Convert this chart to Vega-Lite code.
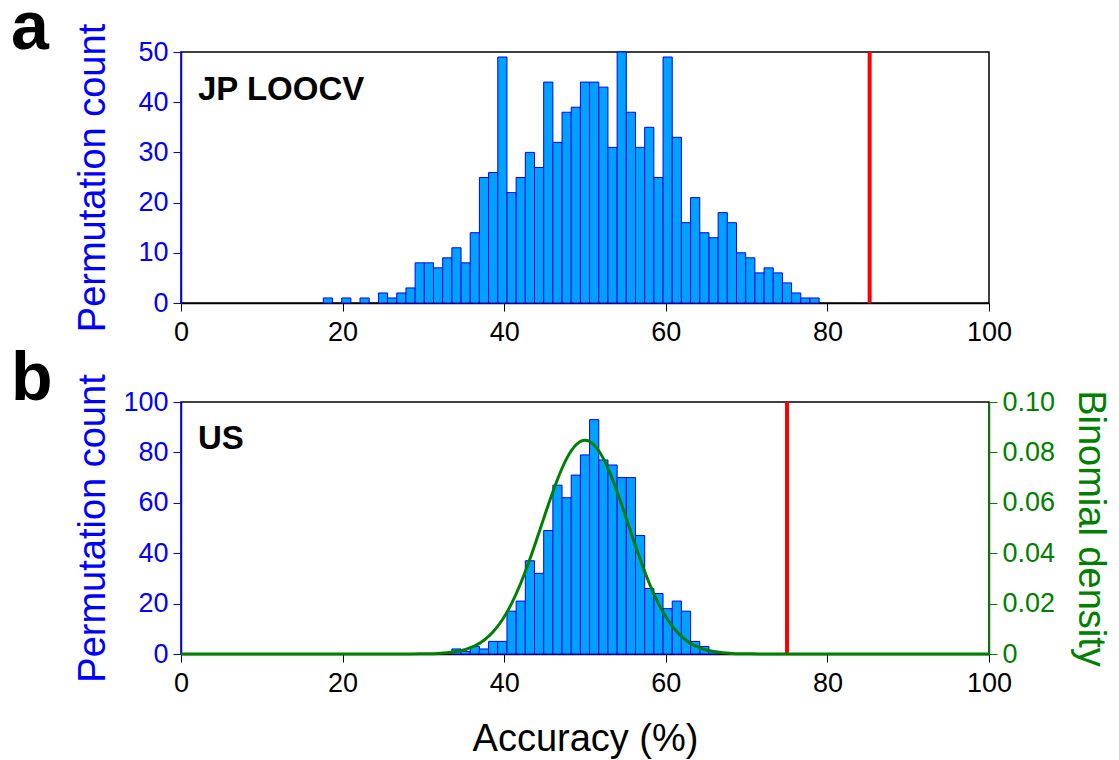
{
  "$schema": "https://vega.github.io/schema/vega-lite/v6.json",
  "background": "white",
  "padding": {"left": 10, "top": -6, "right": 5, "bottom": 5},
  "spacing": 99,
  "bounds": "flush",
  "config": {
    "font": "Liberation Sans",
    "view": {"stroke": "black", "strokeWidth": 1.5},
    "axis": {"grid": false, "labelFont": "Liberation Sans", "titleFont": "Liberation Sans", "labelOverlap": false}
  },
  "datasets": {
    "jp": [
      {"k": 16, "lo": 17.614, "hi": 18.750, "count": 1},
      {"k": 18, "lo": 19.886, "hi": 21.023, "count": 1},
      {"k": 20, "lo": 22.159, "hi": 23.295, "count": 1},
      {"k": 22, "lo": 24.432, "hi": 25.568, "count": 2},
      {"k": 23, "lo": 25.568, "hi": 26.705, "count": 1},
      {"k": 24, "lo": 26.705, "hi": 27.841, "count": 2},
      {"k": 25, "lo": 27.841, "hi": 28.977, "count": 3},
      {"k": 26, "lo": 28.977, "hi": 30.114, "count": 8},
      {"k": 27, "lo": 30.114, "hi": 31.250, "count": 8},
      {"k": 28, "lo": 31.250, "hi": 32.386, "count": 7},
      {"k": 29, "lo": 32.386, "hi": 33.523, "count": 9},
      {"k": 30, "lo": 33.523, "hi": 34.659, "count": 11},
      {"k": 31, "lo": 34.659, "hi": 35.795, "count": 8},
      {"k": 32, "lo": 35.795, "hi": 36.932, "count": 14},
      {"k": 33, "lo": 36.932, "hi": 38.068, "count": 25},
      {"k": 34, "lo": 38.068, "hi": 39.205, "count": 26},
      {"k": 35, "lo": 39.205, "hi": 40.341, "count": 49},
      {"k": 36, "lo": 40.341, "hi": 41.477, "count": 22},
      {"k": 37, "lo": 41.477, "hi": 42.614, "count": 25},
      {"k": 38, "lo": 42.614, "hi": 43.750, "count": 30},
      {"k": 39, "lo": 43.750, "hi": 44.886, "count": 27},
      {"k": 40, "lo": 44.886, "hi": 46.023, "count": 44},
      {"k": 41, "lo": 46.023, "hi": 47.159, "count": 32},
      {"k": 42, "lo": 47.159, "hi": 48.295, "count": 38},
      {"k": 43, "lo": 48.295, "hi": 49.432, "count": 39},
      {"k": 44, "lo": 49.432, "hi": 50.568, "count": 44},
      {"k": 45, "lo": 50.568, "hi": 51.705, "count": 44},
      {"k": 46, "lo": 51.705, "hi": 52.841, "count": 43},
      {"k": 47, "lo": 52.841, "hi": 53.977, "count": 31},
      {"k": 48, "lo": 53.977, "hi": 55.114, "count": 50},
      {"k": 49, "lo": 55.114, "hi": 56.250, "count": 38},
      {"k": 50, "lo": 56.250, "hi": 57.386, "count": 31},
      {"k": 51, "lo": 57.386, "hi": 58.523, "count": 35},
      {"k": 52, "lo": 58.523, "hi": 59.659, "count": 25},
      {"k": 53, "lo": 59.659, "hi": 60.795, "count": 49},
      {"k": 54, "lo": 60.795, "hi": 61.932, "count": 33},
      {"k": 55, "lo": 61.932, "hi": 63.068, "count": 16},
      {"k": 56, "lo": 63.068, "hi": 64.205, "count": 21},
      {"k": 57, "lo": 64.205, "hi": 65.341, "count": 14},
      {"k": 58, "lo": 65.341, "hi": 66.477, "count": 13},
      {"k": 59, "lo": 66.477, "hi": 67.614, "count": 18},
      {"k": 60, "lo": 67.614, "hi": 68.750, "count": 16},
      {"k": 61, "lo": 68.750, "hi": 69.886, "count": 10},
      {"k": 62, "lo": 69.886, "hi": 71.023, "count": 9},
      {"k": 63, "lo": 71.023, "hi": 72.159, "count": 6},
      {"k": 64, "lo": 72.159, "hi": 73.295, "count": 7},
      {"k": 65, "lo": 73.295, "hi": 74.432, "count": 6},
      {"k": 66, "lo": 74.432, "hi": 75.568, "count": 4},
      {"k": 67, "lo": 75.568, "hi": 76.705, "count": 2},
      {"k": 68, "lo": 76.705, "hi": 77.841, "count": 1},
      {"k": 69, "lo": 77.841, "hi": 78.977, "count": 1}
    ],
    "us": [
      {"k": 30, "lo": 33.523, "hi": 34.659, "count": 2},
      {"k": 31, "lo": 34.659, "hi": 35.795, "count": 1},
      {"k": 32, "lo": 35.795, "hi": 36.932, "count": 3},
      {"k": 33, "lo": 36.932, "hi": 38.068, "count": 2},
      {"k": 34, "lo": 38.068, "hi": 39.205, "count": 5},
      {"k": 35, "lo": 39.205, "hi": 40.341, "count": 5},
      {"k": 36, "lo": 40.341, "hi": 41.477, "count": 17},
      {"k": 37, "lo": 41.477, "hi": 42.614, "count": 21},
      {"k": 38, "lo": 42.614, "hi": 43.750, "count": 37},
      {"k": 39, "lo": 43.750, "hi": 44.886, "count": 32},
      {"k": 40, "lo": 44.886, "hi": 46.023, "count": 49},
      {"k": 41, "lo": 46.023, "hi": 47.159, "count": 67},
      {"k": 42, "lo": 47.159, "hi": 48.295, "count": 62},
      {"k": 43, "lo": 48.295, "hi": 49.432, "count": 71},
      {"k": 44, "lo": 49.432, "hi": 50.568, "count": 79},
      {"k": 45, "lo": 50.568, "hi": 51.705, "count": 93},
      {"k": 46, "lo": 51.705, "hi": 52.841, "count": 77},
      {"k": 47, "lo": 52.841, "hi": 53.977, "count": 75},
      {"k": 48, "lo": 53.977, "hi": 55.114, "count": 70},
      {"k": 49, "lo": 55.114, "hi": 56.250, "count": 70},
      {"k": 50, "lo": 56.250, "hi": 57.386, "count": 47},
      {"k": 51, "lo": 57.386, "hi": 58.523, "count": 26},
      {"k": 52, "lo": 58.523, "hi": 59.659, "count": 24},
      {"k": 53, "lo": 59.659, "hi": 60.795, "count": 18},
      {"k": 54, "lo": 60.795, "hi": 61.932, "count": 21},
      {"k": 55, "lo": 61.932, "hi": 63.068, "count": 17},
      {"k": 56, "lo": 63.068, "hi": 64.205, "count": 5},
      {"k": 57, "lo": 64.205, "hi": 65.341, "count": 3},
      {"k": 58, "lo": 65.341, "hi": 66.477, "count": 1}
    ],
    "binom": [
      {"acc": 0, "density": 0},
      {"acc": 27.273, "density": 0.00001},
      {"acc": 28.409, "density": 0.00002},
      {"acc": 29.545, "density": 0.00005},
      {"acc": 30.682, "density": 0.00011},
      {"acc": 31.818, "density": 0.00024},
      {"acc": 32.955, "density": 0.00049},
      {"acc": 34.091, "density": 0.00096},
      {"acc": 35.227, "density": 0.00180},
      {"acc": 36.364, "density": 0.00320},
      {"acc": 37.5, "density": 0.00544},
      {"acc": 38.636, "density": 0.00879},
      {"acc": 39.773, "density": 0.01357},
      {"acc": 40.909, "density": 0.01997},
      {"acc": 42.045, "density": 0.02807},
      {"acc": 43.182, "density": 0.03768},
      {"acc": 44.318, "density": 0.04830},
      {"acc": 45.455, "density": 0.05917},
      {"acc": 46.591, "density": 0.06927},
      {"acc": 47.727, "density": 0.07752},
      {"acc": 48.864, "density": 0.08293},
      {"acc": 50.0, "density": 0.08481},
      {"acc": 51.136, "density": 0.08293},
      {"acc": 52.273, "density": 0.07752},
      {"acc": 53.409, "density": 0.06927},
      {"acc": 54.545, "density": 0.05917},
      {"acc": 55.682, "density": 0.04830},
      {"acc": 56.818, "density": 0.03768},
      {"acc": 57.955, "density": 0.02807},
      {"acc": 59.091, "density": 0.01997},
      {"acc": 60.227, "density": 0.01357},
      {"acc": 61.364, "density": 0.00879},
      {"acc": 62.5, "density": 0.00544},
      {"acc": 63.636, "density": 0.00320},
      {"acc": 64.773, "density": 0.00180},
      {"acc": 65.909, "density": 0.00096},
      {"acc": 67.045, "density": 0.00049},
      {"acc": 68.182, "density": 0.00024},
      {"acc": 69.318, "density": 0.00011},
      {"acc": 70.455, "density": 0.00005},
      {"acc": 71.591, "density": 0.00002},
      {"acc": 72.727, "density": 0.00001},
      {"acc": 100, "density": 0}
    ]
  },
  "vconcat": [
    {
      "width": 808,
      "height": 251,
      "title": {"text": "a", "anchor": "start", "frame": "group", "orient": "top", "fontSize": 68, "fontWeight": "bold", "font": "Liberation Sans", "color": "black", "baseline": "alphabetic", "offset": 0, "dx": -170, "dy": 94},
      "layer": [
        {
          "data": {"name": "jp"},
          "mark": {"type": "bar", "fill": "#00a2ff", "stroke": "#0000ff", "strokeWidth": 1},
          "encoding": {
            "x": {"field": "lo", "type": "quantitative", "scale": {"domain": [0, 100], "nice": false, "zero": false},
              "axis": {"values": [0, 20, 40, 60, 80, 100], "title": null, "labelFontSize": 27, "labelColor": "black", "tickColor": "black", "domainColor": "black", "domainWidth": 1.5, "tickSize": 8, "tickWidth": 1, "labelPadding": 8, "labelFlush": false}},
            "x2": {"field": "hi"},
            "y": {"field": "count", "type": "quantitative", "scale": {"domain": [0, 50], "nice": false},
              "axis": {"values": [0, 10, 20, 30, 40, 50], "title": "Permutation count", "titleFontSize": 38, "titleFontWeight": "normal", "titleColor": "#0000ff", "labelColor": "#0000ff", "labelFontSize": 27, "tickColor": "#0000ff", "domainColor": "#0000ff", "domainWidth": 1.5, "tickSize": 8, "tickWidth": 1, "labelPadding": 5, "titleX": -77, "titleAngle": -90, "titleBaseline": "alphabetic"}},
            "y2": {"datum": 0}
          }
        },
        {
          "data": {"values": [{"observed": 85.23}]},
          "mark": {"type": "rule", "color": "#ff0000", "strokeWidth": 4},
          "encoding": {"x": {"field": "observed", "type": "quantitative"}}
        },
        {
          "data": {"values": [{"label": "JP LOOCV"}]},
          "mark": {"type": "text", "font": "Liberation Sans", "fontSize": 33, "fontWeight": "bold", "align": "left", "baseline": "alphabetic", "color": "black"},
          "encoding": {"x": {"datum": 2.1}, "y": {"datum": 40.4}, "text": {"field": "label"}}
        }
      ]
    },
    {
      "width": 808,
      "height": 252,
      "title": {"text": "b", "anchor": "start", "frame": "group", "orient": "top", "fontSize": 68, "fontWeight": "bold", "font": "Liberation Sans", "color": "black", "baseline": "alphabetic", "offset": 0, "dx": -170, "dy": 94},
      "resolve": {"scale": {"y": "independent"}, "axis": {"y": "independent"}},
      "layer": [
        {
          "data": {"name": "us"},
          "mark": {"type": "bar", "fill": "#00a2ff", "stroke": "#0000ff", "strokeWidth": 1},
          "encoding": {
            "x": {"field": "lo", "type": "quantitative", "scale": {"domain": [0, 100], "nice": false, "zero": false},
              "axis": {"values": [0, 20, 40, 60, 80, 100], "title": "Accuracy (%)", "titleFontSize": 38, "titleFontWeight": "normal", "titleColor": "black", "titlePadding": 24, "labelFontSize": 27, "labelColor": "black", "tickColor": "black", "domainColor": "black", "domainWidth": 1.5, "tickSize": 8, "tickWidth": 1, "labelPadding": 8, "labelFlush": false}},
            "x2": {"field": "hi"},
            "y": {"field": "count", "type": "quantitative", "scale": {"domain": [0, 100], "nice": false},
              "axis": {"orient": "left", "values": [0, 20, 40, 60, 80, 100], "title": "Permutation count", "titleFontSize": 38, "titleFontWeight": "normal", "titleColor": "#0000ff", "labelColor": "#0000ff", "labelFontSize": 27, "tickColor": "#0000ff", "domainColor": "#0000ff", "domainWidth": 1.5, "tickSize": 8, "tickWidth": 1, "labelPadding": 5, "titleX": -77, "titleAngle": -90, "titleBaseline": "alphabetic"}},
            "y2": {"datum": 0}
          }
        },
        {
          "data": {"values": [{"observed": 75.0}]},
          "mark": {"type": "rule", "color": "#ff0000", "strokeWidth": 4},
          "encoding": {"x": {"field": "observed", "type": "quantitative"}}
        },
        {
          "data": {"name": "binom"},
          "mark": {"type": "line", "color": "#008000", "strokeWidth": 3, "interpolate": "monotone"},
          "encoding": {
            "x": {"field": "acc", "type": "quantitative"},
            "y": {"field": "density", "type": "quantitative", "scale": {"domain": [0, 0.1], "nice": false},
              "axis": {"orient": "right", "values": [0, 0.02, 0.04, 0.06, 0.08, 0.1], "labelExpr": "datum.value == 0 ? '0' : format(datum.value, '.2f')", "title": "Binomial density", "titleFontSize": 38, "titleFontWeight": "normal", "titleColor": "#008000", "labelColor": "#008000", "labelFontSize": 27, "tickColor": "#008000", "domainColor": "#008000", "domainWidth": 1.5, "tickSize": 8, "tickWidth": 1, "labelPadding": 5, "titleX": 89, "titleAngle": 90, "titleBaseline": "alphabetic"}}
          }
        },
        {
          "data": {"values": [{"label": "US"}]},
          "mark": {"type": "text", "font": "Liberation Sans", "fontSize": 33, "fontWeight": "bold", "align": "left", "baseline": "alphabetic", "color": "black"},
          "encoding": {"x": {"datum": 2.1}, "y": {"datum": 81.3, "scale": {"domain": [0, 100], "nice": false}, "axis": null}, "text": {"field": "label"}}
        }
      ]
    }
  ]
}
